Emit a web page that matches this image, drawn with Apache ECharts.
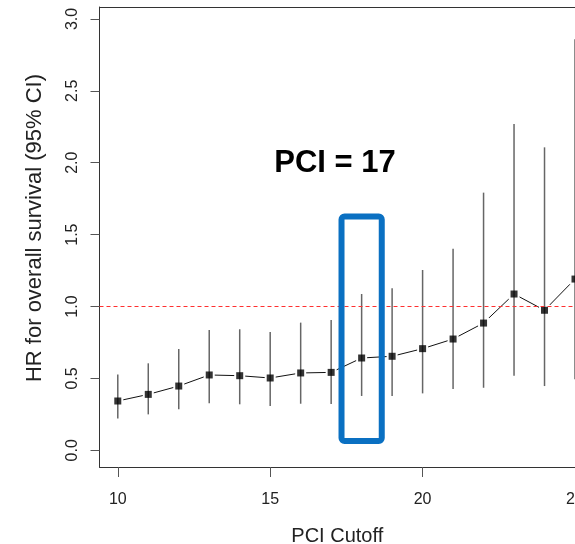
<!DOCTYPE html>
<html>
<head>
<meta charset="utf-8">
<script src="https://cdn.jsdelivr.net/npm/echarts@6/dist/echarts.min.js"></script>
<style>
html,body{margin:0;padding:0;background:#fff;}
#chart{width:575px;height:544px;}
</style>
</head>
<body>
<div id="chart"></div>
<script>
// ---- data ----
const pciCutoff = [10, 11, 12, 13, 14, 15, 16, 17, 18, 19, 20, 21, 22, 23, 24, 25];
const hr        = [0.343, 0.389, 0.447, 0.524, 0.519, 0.503, 0.538, 0.542, 0.642, 0.654, 0.707, 0.774, 0.885, 1.087, 0.974, 1.191];
const ciLow     = [0.222, 0.250, 0.285, 0.327, 0.320, 0.308, 0.324, 0.322, 0.378, 0.378, 0.396, 0.426, 0.435, 0.518, 0.447, 0.494];
const ciHigh    = [0.528, 0.605, 0.705, 0.837, 0.842, 0.823, 0.888, 0.906, 1.087, 1.127, 1.254, 1.402, 1.792, 2.270, 2.107, 2.859];
const xTicks = [10, 15, 20, 25];
const yTicks = [0, 0.5, 1, 1.5, 2, 2.5, 3];
const yTickLabels = ['0.0', '0.5', '1.0', '1.5', '2.0', '2.5', '3.0'];
const referenceHR = 1;
const highlightCutoff = 18;      // box drawn around this cutoff
const highlightRange = [0.065, 1.626];
const annotationText = 'PCI = 17';
const xTitle = 'PCI Cutoff';
const yTitle = 'HR for overall survival (95% CI)';

const FONT = "'Liberation Sans', Arial, sans-serif";

const pointData = pciCutoff.map((x, i) => [x, hr[i]]);
const barData = pciCutoff.map((x, i) => [x, ciLow[i], ciHigh[i]]);

const chart = echarts.init(document.getElementById('chart'), null, {renderer: 'canvas'});

const X_MIN = 9.4, X_MAX = 25.0;
const boxLine = {show: true, onZero: false, lineStyle: {color: '#333', width: 1}};

chart.setOption({
  animation: false,
  backgroundColor: '#fff',
  textStyle: {fontFamily: FONT},
  grid: {left: 99.5, top: 7, right: 0, bottom: 77, show: false, containLabel: false, outerBoundsMode: 'none'},
  xAxis: [{
    type: 'value', min: X_MIN, max: X_MAX,
    name: xTitle, nameLocation: 'middle', nameGap: 59,
    nameTextStyle: {fontSize: 20, color: '#222', fontFamily: FONT},
    axisLine: boxLine,
    splitLine: {show: false},
    axisTick: {show: true, inside: false, length: 10, customValues: xTicks, lineStyle: {color: '#555', width: 1}},
    axisLabel: {customValues: xTicks, fontSize: 16, color: '#222', margin: 25, fontFamily: FONT,
      hideOverlap: false, showMaxLabel: true, formatter: v => String(v)}
  }, {
    type: 'value', min: X_MIN, max: X_MAX, position: 'top',
    axisLine: boxLine, axisTick: {show: false}, axisLabel: {show: false}, splitLine: {show: false}
  }],
  yAxis: {
    type: 'value', min: -0.116, max: 3.083,
    axisLine: boxLine,
    splitLine: {show: false},
    axisTick: {show: true, inside: false, length: 9, customValues: yTicks, lineStyle: {color: '#555', width: 1}},
    axisLabel: {customValues: yTicks, fontSize: 16, color: '#222', margin: 19, rotate: 90, fontFamily: FONT,
      formatter: v => { const i = yTicks.indexOf(Math.round(v * 10) / 10); return i >= 0 ? yTickLabels[i] : v.toFixed(1); }}
  },
  series: [
    {
      // connecting line with gaps around the points
      type: 'line', data: pointData, z: 2,
      symbol: 'rect', symbolSize: 7,
      lineStyle: {color: '#111', width: 1},
      itemStyle: {color: '#fff', borderColor: '#fff', borderWidth: 4},
      markLine: {
        silent: true, symbol: 'none', label: {show: false},
        lineStyle: {color: '#ff3030', type: [4, 3], width: 1},
        data: [{yAxis: referenceHR}]
      }
    },
    {
      type: 'custom', data: barData, z: 3,
      encode: {x: 0, y: [1, 2]},
      renderItem: function (params, api) {
        const x = api.value(0);
        const p1 = api.coord([x, api.value(1)]);
        const p2 = api.coord([x, api.value(2)]);
        return {type: 'line', shape: {x1: p1[0], y1: p1[1], x2: p2[0], y2: p2[1]},
          style: {stroke: '#666', lineWidth: 1.5}};
      }
    },
    {
      type: 'scatter', data: pointData, z: 4,
      symbol: 'rect', symbolSize: 7,
      itemStyle: {color: '#000'}
    },
    {
      type: 'custom', data: [[highlightCutoff, highlightRange[0], highlightRange[1]]], z: 5,
      encode: {x: 0, y: [1, 2]},
      renderItem: function (params, api) {
        const c = api.value(0);
        const p1 = api.coord([c - 0.66, api.value(2)]);
        const p2 = api.coord([c + 0.66, api.value(1)]);
        return {type: 'rect', shape: {x: p1[0], y: p1[1], width: p2[0] - p1[0], height: p2[1] - p1[1], r: 3},
          style: {fill: 'none', stroke: '#0a70c2', lineWidth: 6}};
      }
    }
  ],
  graphic: [{
    type: 'text', x: 335, y: 163,
    style: {text: annotationText, fontSize: 31, fontWeight: 'bold', fontFamily: FONT,
      fill: '#000', align: 'center', verticalAlign: 'middle'}
  }, {
    type: 'text', x: 35, y: 228, rotation: Math.PI / 2,
    style: {text: yTitle, fontSize: 22, fontFamily: FONT, fill: '#222', align: 'center', verticalAlign: 'middle'}
  }]
});
</script>
</body>
</html>
